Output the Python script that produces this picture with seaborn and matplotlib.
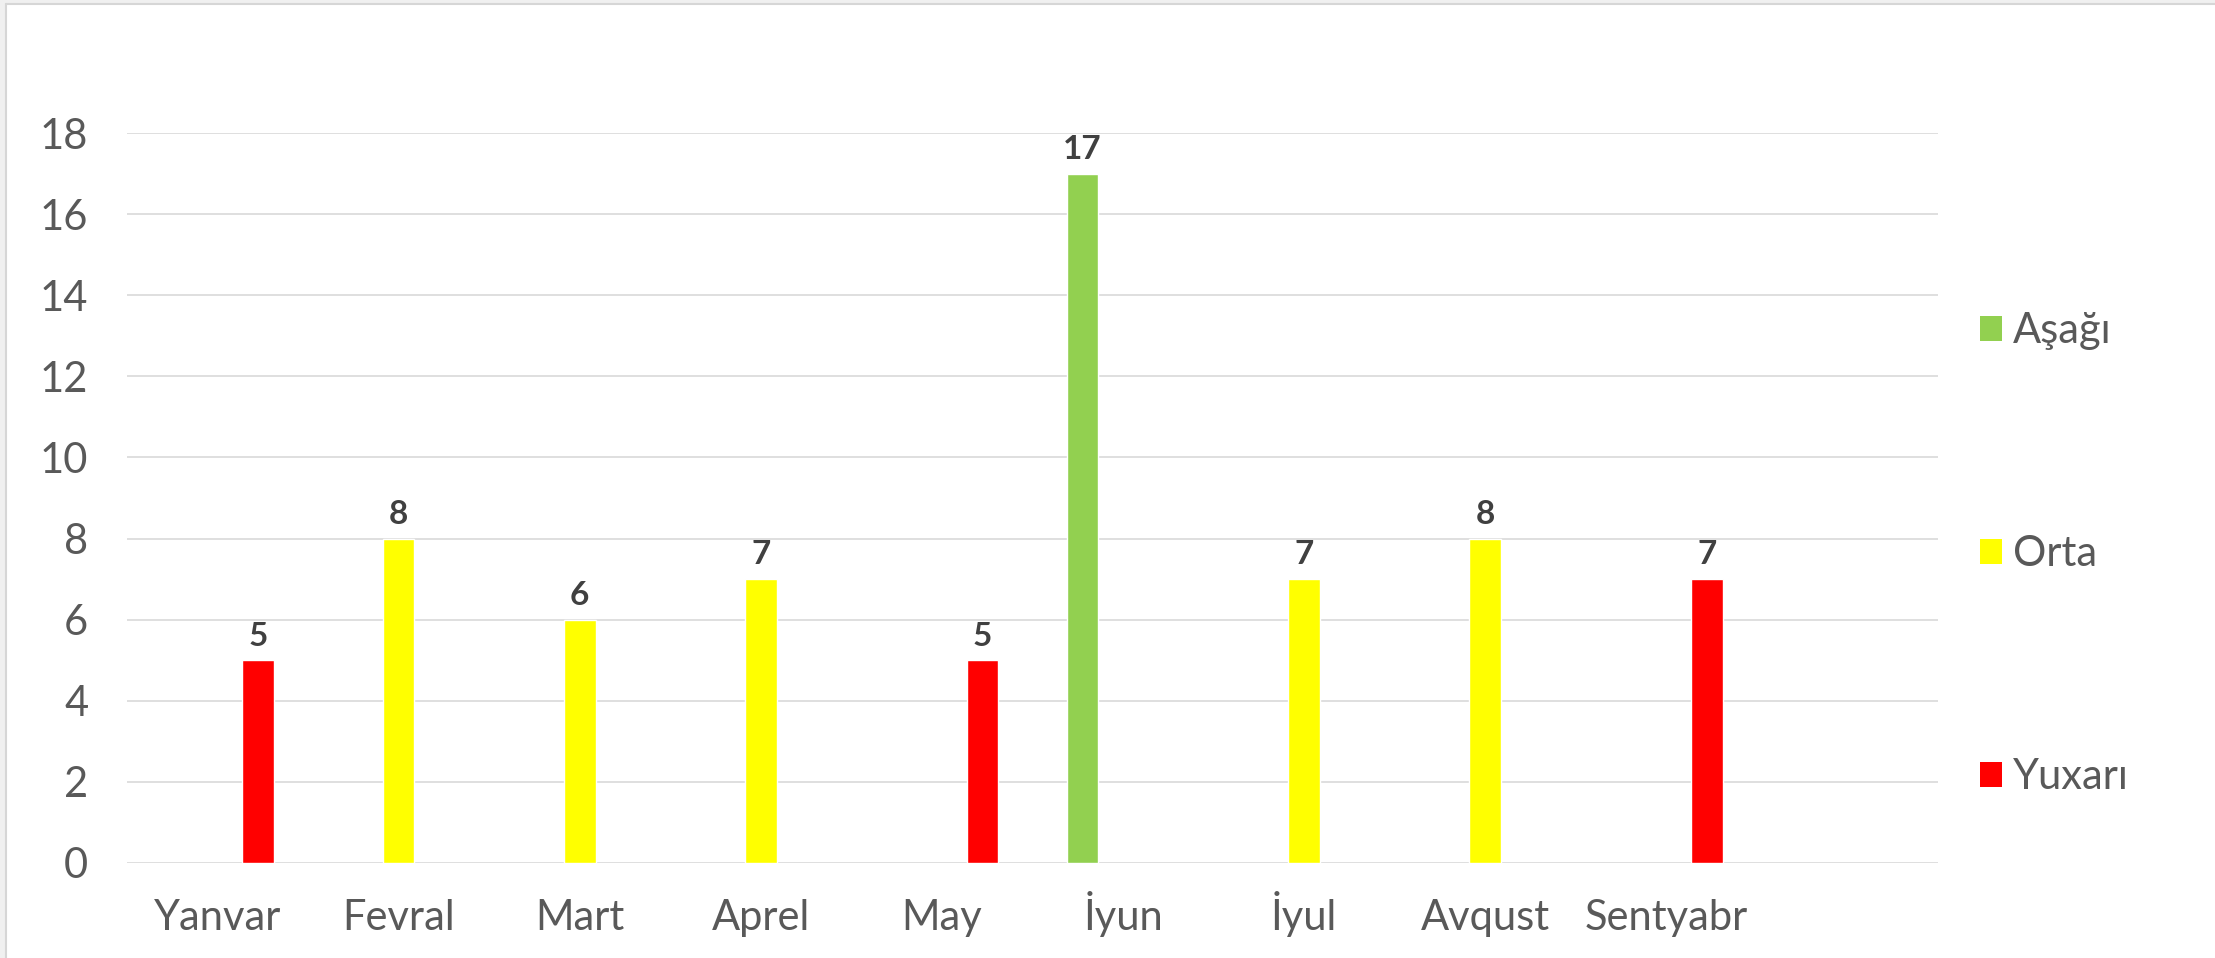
import numpy as np
import pandas as pd
import matplotlib
matplotlib.use("Agg")
import matplotlib.pyplot as plt
from matplotlib.patches import Patch, Rectangle
import seaborn as sns

# ---- data ----
months = ["Yanvar", "Fevral", "Mart", "Aprel", "May", "İyun", "İyul", "Avqust", "Sentyabr"]
series = ["Aşağı", "Orta", "Yuxarı"]
asagi = [np.nan, np.nan, np.nan, np.nan, np.nan, 17, np.nan, np.nan, np.nan]
orta = [np.nan, 8, 6, 7, np.nan, np.nan, 7, 8, np.nan]
yuxari = [5, np.nan, np.nan, np.nan, 5, np.nan, np.nan, np.nan, 7]
colors = ["#92D050", "#FFFF00", "#FF0000"]
yticks = [0, 2, 4, 6, 8, 10, 12, 14, 16, 18]

rows = []
for name, vals in zip(series, [asagi, orta, yuxari]):
    for m, v in zip(months, vals):
        if not np.isnan(v):
            rows.append({"Ay": m, "Seriya": name, "Dəyər": v})
df = pd.DataFrame(rows)

sns.set_theme(style="white")
plt.rcParams["font.family"] = ["Lato", "DejaVu Sans"]

W, H = 2215, 958
fig = plt.figure(figsize=(W / 100, H / 100), dpi=100)
fig.patch.set_facecolor("white")

ax = fig.add_axes([127 / W, 1 - 863 / H, (1938 - 127) / W, (863 - 133) / H])

sns.barplot(data=df, x="Ay", y="Dəyər", hue="Seriya", order=months,
            hue_order=series, palette=colors, width=0.671, gap=0.222,
            dodge=True, saturation=1, errorbar=None, ax=ax, legend=False,
            zorder=3)

ax.set_xlim(-0.5, 9.5)
ax.set_ylim(0, 18)
ax.set_yticks(yticks)
ax.set_yticklabels([str(t) for t in yticks])
ax.yaxis.grid(True, color="#d9d9d9", linewidth=1.2, zorder=0)
ax.set_axisbelow(True)
for s in ax.spines.values():
    s.set_visible(False)
ax.set_xlabel("")
ax.set_ylabel("")
ax.tick_params(axis="y", length=0, pad=28, labelsize=30, labelcolor="#595959")
ax.tick_params(axis="x", length=0, pad=48, labelsize=30, labelcolor="#595959")
for lab in ax.get_xticklabels():
    lab.set_verticalalignment("baseline")

for cont in ax.containers:
    ax.bar_label(cont, fmt="%g", padding=7, fontsize=24, fontweight="bold",
                 color="#404040")

handles = [Patch(facecolor=c, edgecolor="none") for c in colors]
fig.legend(handles, series, loc="center left",
           bbox_to_anchor=(1980 / W, 1 - 554 / H), frameon=False,
           fontsize=30, labelcolor="#595959", handlelength=0.53,
           handleheight=0.53, handletextpad=0.26, labelspacing=4.44,
           borderpad=0, borderaxespad=0)

# outer frame like the source screenshot
fig.patches.append(Rectangle((0, 1 - 4 / H), 1, 4 / H, transform=fig.transFigure,
                             facecolor="#f0f0f0", edgecolor="none", zorder=0))
fig.patches.append(Rectangle((0, 0), 6 / W, 1, transform=fig.transFigure,
                             facecolor="#f0f0f0", edgecolor="none", zorder=0))
fig.add_artist(plt.Line2D([6 / W, 6 / W], [0, 1 - 4 / H], transform=fig.transFigure,
                          color="#d6d6d6", linewidth=1.5))
fig.add_artist(plt.Line2D([6 / W, 1], [1 - 4 / H, 1 - 4 / H], transform=fig.transFigure,
                          color="#d6d6d6", linewidth=1.5))

fig.savefig("out.png", dpi=100)
